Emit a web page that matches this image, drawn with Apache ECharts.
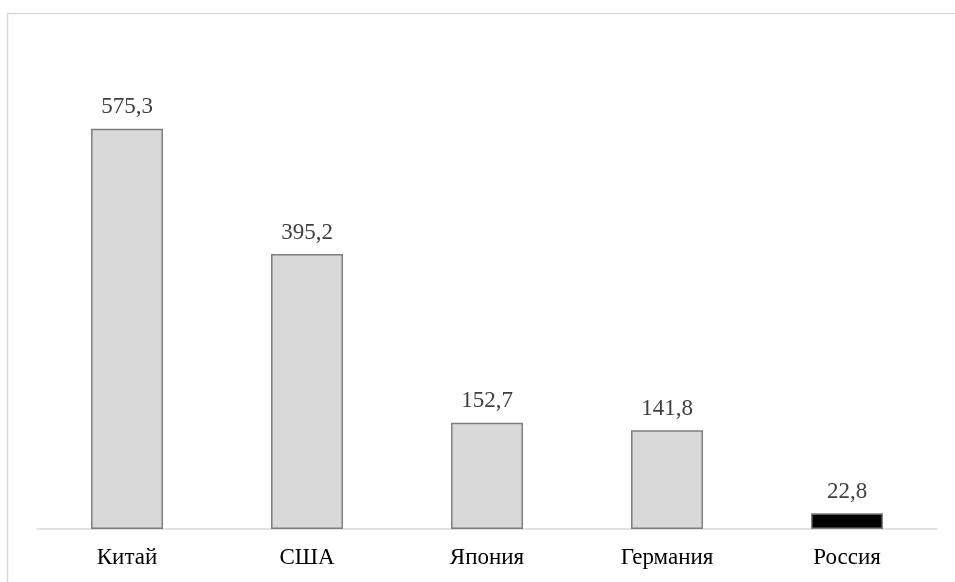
<!DOCTYPE html>
<html>
<head>
<meta charset="utf-8">
<script src="https://cdn.jsdelivr.net/npm/echarts@6/dist/echarts.min.js"></script>
<style>
  html, body { margin: 0; padding: 0; background: #ffffff; }
  #chart { width: 955px; height: 582px; }
</style>
</head>
<body>
<div id="chart"></div>
<script>
// Countries and their values
var countries = ['Китай', 'США', 'Япония', 'Германия', 'Россия'];
var values = [575.3, 395.2, 152.7, 141.8, 22.8];
var highlightCountry = 'Россия';

var serifFont = "'Liberation Serif', 'Times New Roman', serif";

var chart = echarts.init(document.getElementById('chart'), null, { renderer: 'canvas' });

var seriesData = countries.map(function (name, i) {
  var isHighlight = name === highlightCountry;
  return {
    value: values[i],
    itemStyle: {
      color: isHighlight ? '#000000' : '#d9d9d9',
      borderColor: '#7f7f7f',
      borderWidth: 1.5
    }
  };
});

chart.setOption({
  animation: false,
  backgroundColor: '#ffffff',
  graphic: [{
    type: 'rect',
    shape: { x: 7.5, y: 13.5, width: 1200, height: 1200 },
    style: { fill: 'none', stroke: '#d9d9d9', lineWidth: 1.5 },
    silent: true,
    z: -1
  }],
  grid: { left: 37, right: 18, top: 42, bottom: 53 },
  xAxis: {
    type: 'category',
    data: countries,
    axisLine: { show: true, lineStyle: { color: '#d9d9d9', width: 1.5 } },
    axisTick: { show: false },
    axisLabel: {
      margin: 17,
      color: '#000000',
      fontFamily: serifFont,
      fontSize: 23
    }
  },
  yAxis: {
    type: 'value',
    min: 0,
    max: 700,
    show: false,
    splitLine: { show: false }
  },
  series: [{
    type: 'bar',
    data: seriesData,
    barWidth: 72,
    label: {
      show: true,
      position: 'top',
      distance: 10,
      color: '#404040',
      fontFamily: serifFont,
      fontSize: 23,
      formatter: function (p) {
        return p.value.toFixed(1).replace('.', ',');
      }
    }
  }]
});
</script>
</body>
</html>
